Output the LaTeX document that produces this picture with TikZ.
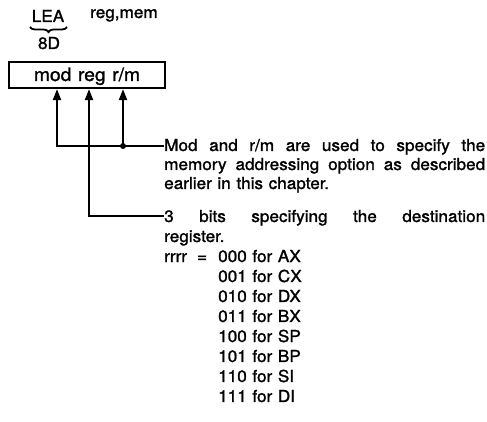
\documentclass[tikz,border=0pt]{standalone}
\usepackage{fontspec}
\setmainfont{TeX Gyre Heros}[FakeStretch=1.04, FakeBold=1.4]
\usetikzlibrary{positioning,arrows.meta,decorations.pathreplacing}

\begin{document}
\begin{tikzpicture}[
    x=1pt, y=-1pt,
    txt/.style={inner sep=0pt,
                font={\fontsize{16.5}{19}\selectfont\spaceskip=0.34em plus 2em minus 0.12em\relax}},
    note/.style={txt, anchor=base west, text width=321pt, align=justify,
                 execute at begin node={\hyphenpenalty=10000\relax}},
    fieldbox/.style={draw, line width=2.2pt, minimum width=156pt, minimum height=26pt,
                     inner sep=0pt, text height=14pt, text depth=2pt,
                     font={\fontsize{18.5}{20}\selectfont\spaceskip=0.36em\relax}},
    arr/.style={line width=2.2pt, -{Triangle[length=11pt,width=8pt]}},
    wire/.style={line width=2.2pt}
]
  \useasboundingbox (0,0) rectangle (487,422);

  % Mnemonic and opcode
  \node[txt, anchor=base] (lea) at (48,22) {LEA};
  \node[txt, anchor=base west] (operands) at (90,18) {reg,mem};
  \draw[line width=1.8pt, decorate, decoration={brace, mirror, amplitude=5pt}]
        (30,27) -- (67,27);
  \node[txt, anchor=base] (opcode) at (49,49) {8D};

  % Second byte of the instruction
  \node[fieldbox] (instr) at (87,75) {mod reg r/m};

  % Notes
  \node[note] (modnote) at (164,151) {%
    Mod and r/m are used to specify the\linebreak
    memory addressing option as described\linebreak
    earlier in this chapter.};
  \node[note, font={\fontsize{16.5}{20}\selectfont\spaceskip=0.34em plus 3em minus 0.12em\relax}]
        (regnote) at (164,222) {%
    3 bits specifying the destination\linebreak
    register.\\
    \makebox[54pt][l]{rrrr\hspace{10pt}=}000 for AX\\
    \hspace*{54pt}001 for CX\\
    \hspace*{54pt}010 for DX\\
    \hspace*{54pt}011 for BX\\
    \hspace*{54pt}100 for SP\\
    \hspace*{54pt}101 for BP\\
    \hspace*{54pt}110 for SI\\
    \hspace*{54pt}111 for DI};

  % Connectors from the notes up to the fields
  \coordinate (modjoin) at (57,146);
  \coordinate (rmjoin)  at (123,146);
  \coordinate (regjoin) at (89,216);

  \draw[arr] (modjoin -| modnote.west) -- (modjoin) -- (modjoin |- instr.south);
  \draw[arr] (rmjoin) -- (rmjoin |- instr.south);
  \fill (rmjoin) circle (3pt);
  \draw[arr] (regjoin -| regnote.west) -- (regjoin) -- (regjoin |- instr.south);
\end{tikzpicture}
\end{document}
